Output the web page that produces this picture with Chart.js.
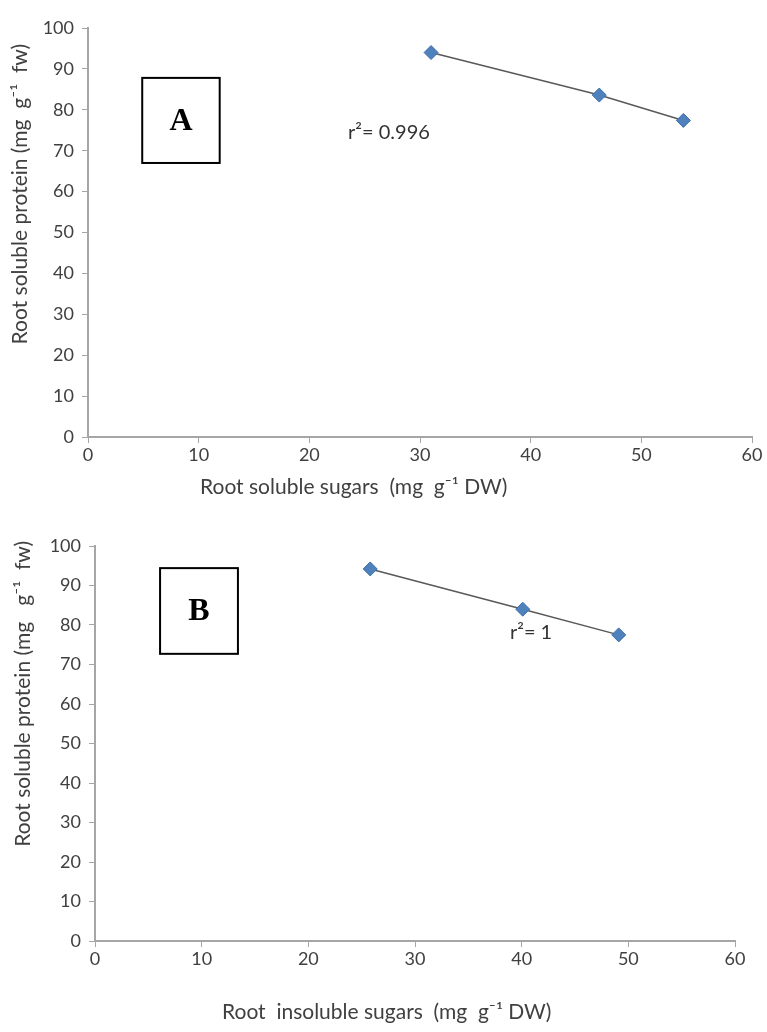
<!DOCTYPE html>
<html lang="en">
<head>
<meta charset="UTF-8">
<title>Root protein vs sugars</title>
<script src="https://cdn.jsdelivr.net/npm/chart.js@4.4.1/dist/chart.umd.min.js"></script>
<style>
  body { margin: 0; background: #fff; width: 767px; height: 1032px; position: relative; overflow: hidden; }
  .wrap { position: absolute; left: 0; width: 767px; }
  #wrapA { top: 0; height: 505px; }
  #wrapB { top: 505px; height: 527px; }
</style>
</head>
<body>
<div class="wrap" id="wrapA"><canvas id="chartA"></canvas></div>
<div class="wrap" id="wrapB"><canvas id="chartB"></canvas></div>
<script>
// values
var solubleSugars = [31.0, 46.2, 53.8];
var proteinA = [94.0, 83.6, 77.4];
var insolubleSugars = [25.8, 40.1, 49.1];
var proteinB = [94.2, 84.0, 77.5];
var xTickValues = [0, 10, 20, 30, 40, 50, 60];
var yTickValues = [0, 10, 20, 30, 40, 50, 60, 70, 80, 90, 100];

var fontFamily = "Lato, 'Open Sans', sans-serif";
var tickFont = { family: fontFamily, size: 18 };
var textColor = '#404040';
var axisColor = '#a6a6a6';

function toPoints(xs, ys) {
  return xs.map(function (x, i) { return { x: x, y: ys[i] }; });
}

// axis titles, panel letter box and r² note
var panelPlugin = {
  id: 'panelLabel',
  afterDraw: function (chart, args, o) {
    var ctx = chart.ctx, sx = chart.scales.x, sy = chart.scales.y;
    ctx.save();
    // axis titles
    ctx.fillStyle = textColor;
    ctx.font = '21px ' + fontFamily;
    ctx.textBaseline = 'middle';
    ctx.textAlign = 'left';
    ctx.fillText(o.xTitle, o.xTitleAt[0], o.xTitleAt[1]);
    ctx.save();
    ctx.translate(o.yTitleAt[0], o.yTitleAt[1]);
    ctx.rotate(-Math.PI / 2);
    ctx.textAlign = 'right';
    ctx.fillText(o.yTitle, 0, 0);
    ctx.restore();
    // letter box
    var x1 = sx.getPixelForValue(o.box[0]), x2 = sx.getPixelForValue(o.box[1]);
    var y1 = sy.getPixelForValue(o.box[2]), y2 = sy.getPixelForValue(o.box[3]);
    ctx.strokeStyle = '#000';
    ctx.lineWidth = 2;
    ctx.strokeRect(x1, y1, x2 - x1, y2 - y1);
    ctx.fillStyle = '#000';
    ctx.font = "bold 32px 'Liberation Serif', serif";
    ctx.textAlign = 'center';
    ctx.fillText(o.letter, (x1 + x2) / 2, (y1 + y2) / 2 + 1);
    // r²
    ctx.fillStyle = '#333';
    ctx.font = '20px ' + fontFamily;
    ctx.textAlign = 'left';
    ctx.fillText(o.r2, sx.getPixelForValue(o.r2At[0]), sy.getPixelForValue(o.r2At[1]));
    ctx.restore();
  }
};

function makeChart(id, xs, ys, layout, panel) {
  return new Chart(document.getElementById(id), {
    type: 'scatter',
    data: {
      datasets: [{
        data: toPoints(xs, ys),
        showLine: true,
        borderColor: '#595959',
        borderWidth: 1.5,
        pointStyle: 'rectRot',
        pointRadius: 7,
        pointHoverRadius: 7,
        pointBackgroundColor: '#4f81bd',
        pointBorderColor: '#3d6ea8',
        pointBorderWidth: 1
      }]
    },
    options: {
      responsive: true,
      maintainAspectRatio: false,
      animation: false,
      events: [],
      layout: { padding: { top: layout.top, right: layout.right, left: 0, bottom: 0 } },
      plugins: {
        legend: { display: false },
        tooltip: { enabled: false },
        panelLabel: panel
      },
      scales: {
        x: {
          type: 'linear',
          min: 0, max: 60,
          afterBuildTicks: function (s) { s.ticks = xTickValues.map(function (v) { return { value: v }; }); },
          afterFit: function (s) { s.height = layout.xHeight; },
          grid: { display: true, drawOnChartArea: false, drawTicks: true, tickLength: 6, color: axisColor },
          border: { color: axisColor, width: 2 },
          ticks: { font: tickFont, color: textColor, padding: 1, maxRotation: 0 }
        },
        y: {
          type: 'linear',
          min: 0, max: 100,
          afterBuildTicks: function (s) { s.ticks = yTickValues.map(function (v) { return { value: v }; }); },
          afterFit: function (s) { s.width = layout.left; },
          grid: { display: true, drawOnChartArea: false, drawTicks: true, tickLength: 6, color: axisColor },
          border: { color: axisColor, width: 2 },
          ticks: { font: tickFont, color: textColor, padding: 8 }
        }
      }
    },
    plugins: [panelPlugin]
  });
}

makeChart('chartA', solubleSugars, proteinA,
  { top: 28, right: 15, left: 88, xHeight: 68 },
  { xTitle: 'Root soluble sugars  (mg  g\u207B\u00B9 DW)', xTitleAt: [200, 487],
    yTitle: 'Root soluble protein (mg  g\u207B\u00B9  fw)', yTitleAt: [20, 44],
    letter: 'A', box: [4.9, 11.9, 87.8, 67.0], r2: 'r\u00B2= 0.996', r2At: [23.5, 74.5] });

makeChart('chartB', insolubleSugars, proteinB,
  { top: 41, right: 32, left: 95, xHeight: 91 },
  { xTitle: 'Root  insoluble sugars  (mg  g\u207B\u00B9 DW)', xTitleAt: [222, 507],
    yTitle: 'Root soluble protein (mg   g\u207B\u00B9  fw)', yTitleAt: [23, 36],
    letter: 'B', box: [6.1, 13.4, 94.4, 72.7], r2: 'r\u00B2= 1', r2At: [38.9, 78.2] });
</script>
</body>
</html>
